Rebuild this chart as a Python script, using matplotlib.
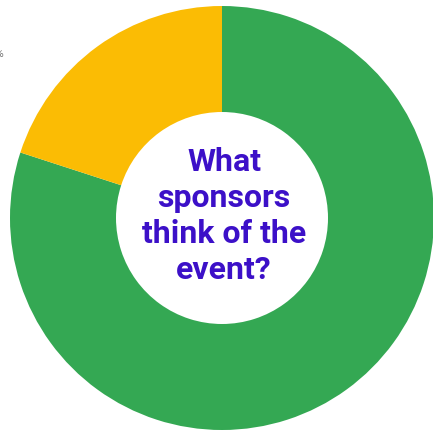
import matplotlib
matplotlib.use("Agg")
import matplotlib.pyplot as plt

# slice data
labels = ["Positive", "Neutral"]
values = [80, 20]
colors = ["#34A853", "#FBBC04"]
center_title = "What\nsponsors\nthink of the\nevent?"

W, H = 433, 431
fig = plt.figure(figsize=(W / 100, H / 100), dpi=100)
ax = fig.add_axes([0, 0, 1, 1])

cx, cy, r = 222, H - 219, 212
ax.pie(values, colors=colors, startangle=90, counterclock=False,
       center=(cx, cy), radius=r,
       wedgeprops=dict(width=r * 0.5, edgecolor="none"))

ax.text(cx + 2, cy + 3, center_title, ha="center", va="center",
        fontsize=23, fontweight="bold", family=["Roboto", "DejaVu Sans"],
        color="#3C10C8", linespacing=1.25)

# outside label, clipped at the left edge as in the original
ax.text(4, H - 54, "20%", ha="right", va="center", fontsize=8,
        color="#777777", family=["Roboto", "DejaVu Sans"])

ax.set_xlim(0, W)
ax.set_ylim(0, H)
ax.set_aspect("equal", adjustable="datalim")
ax.axis("off")

fig.savefig("out.png", dpi=100)
